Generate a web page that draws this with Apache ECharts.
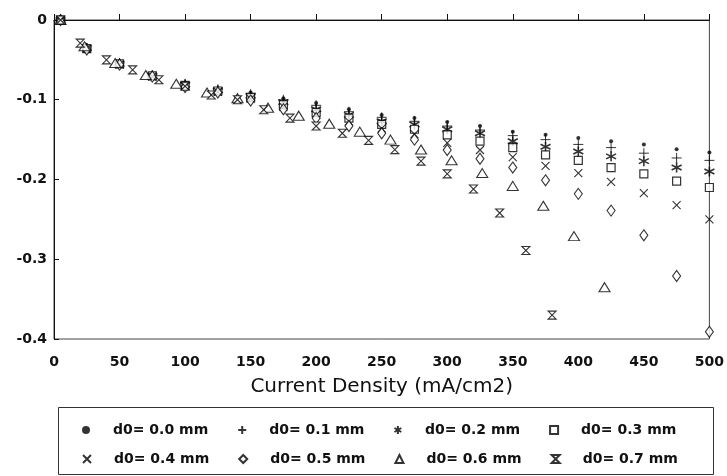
<!DOCTYPE html>
<html>
<head>
<meta charset="utf-8">
<script src="https://cdn.jsdelivr.net/npm/echarts@6/dist/echarts.min.js"></script>
<style>
    html, body { margin: 0; padding: 0; background: #fff; }
    #chart { width: 727px; height: 476px; }
</style>
</head>
<body>
<div id="chart"></div>
<script>
// 横轴 (mA/cm2)
var xMain = [5, 25, 50, 75, 100, 125, 150, 175, 200, 225, 250, 275, 300, 325, 350, 375, 400, 425, 450, 475, 500];
var x06 = [5, 23.3, 46.7, 70, 93.3, 116.7, 140, 163.3, 186.7, 210, 233.3, 256.7, 280, 303.3, 326.7, 350, 373.3, 396.7, 420];
var x07 = [5, 20, 40, 60, 80, 100, 120, 140, 160, 180, 200, 220, 240, 260, 280, 300, 320, 340, 360, 380];

// 纵轴数值
var y00 = [0, -0.034, -0.053, -0.068, -0.079, -0.086, -0.091, -0.098, -0.104, -0.112, -0.119, -0.123, -0.128, -0.133, -0.140, -0.144, -0.148, -0.152, -0.156, -0.162, -0.166];
var y01 = [0, -0.035, -0.054, -0.069, -0.080, -0.087, -0.093, -0.100, -0.107, -0.115, -0.122, -0.127, -0.133, -0.138, -0.145, -0.150, -0.156, -0.160, -0.167, -0.173, -0.176];
var y02 = [0, -0.035, -0.055, -0.070, -0.081, -0.088, -0.095, -0.103, -0.112, -0.119, -0.127, -0.131, -0.137, -0.142, -0.152, -0.159, -0.165, -0.171, -0.177, -0.185, -0.190];
var y03 = [0, -0.036, -0.055, -0.070, -0.082, -0.089, -0.097, -0.106, -0.116, -0.123, -0.131, -0.137, -0.144, -0.152, -0.160, -0.169, -0.176, -0.185, -0.193, -0.202, -0.210];
var y04 = [0, -0.036, -0.056, -0.071, -0.083, -0.090, -0.099, -0.109, -0.119, -0.127, -0.136, -0.143, -0.154, -0.163, -0.172, -0.183, -0.192, -0.203, -0.217, -0.232, -0.250];
var y05 = [0, -0.037, -0.056, -0.071, -0.084, -0.091, -0.101, -0.112, -0.123, -0.133, -0.142, -0.150, -0.163, -0.174, -0.185, -0.201, -0.218, -0.239, -0.270, -0.321, -0.391];
var y06 = [0, -0.033, -0.054, -0.069, -0.080, -0.091, -0.098, -0.110, -0.120, -0.130, -0.140, -0.150, -0.1625, -0.176, -0.192, -0.208, -0.233, -0.271, -0.335];
var y07 = [0, -0.029, -0.050, -0.0625, -0.075, -0.083, -0.094, -0.100, -0.1125, -0.123, -0.133, -0.142, -0.151, -0.1625, -0.177, -0.193, -0.212, -0.242, -0.289, -0.370];

var names = ['d0= 0.0 mm', 'd0= 0.1 mm', 'd0= 0.2 mm', 'd0= 0.3 mm', 'd0= 0.4 mm', 'd0= 0.5 mm', 'd0= 0.6 mm', 'd0= 0.7 mm'];

// 符号
var symPlus = 'path://M0,5 L10,5 M5,0 L5,10';
var symStar = 'path://M5,0 L5,10 M0.7,2.5 L9.3,7.5 M0.7,7.5 L9.3,2.5';
var symCross = 'path://M0,0 L10,10 M0,10 L10,0';
var symHour = 'path://M0,0 L10,0 L0,10 L10,10 Z';

function pairs(xs, ys) {
    return ys.map(function (v, i) { return [xs[i], v]; });
}

function makeSeries(name, xs, ys, symbol, size, fill, bw) {
    return {
        type: 'scatter',
        name: name,
        data: pairs(xs, ys),
        symbol: symbol,
        symbolSize: size,
        itemStyle: {
            color: fill,
            borderColor: '#000',
            borderWidth: bw
        },
        emphasis: { disabled: true }
    };
}

function extend(base, extra) {
    var o = JSON.parse(JSON.stringify(base));
    for (var k in extra) o[k] = extra[k];
    return o;
}

var chart = echarts.init(document.getElementById('chart'));

var legendBase = {
    orient: 'horizontal',
    left: 77,
    itemWidth: 8,
    itemHeight: 8,
    itemGap: 29,
    textStyle: {
        fontFamily: 'DejaVu Sans',
        fontWeight: 'bold',
        fontSize: 14,
        color: '#111',
        width: 95,
        padding: [0, 0, 0, 18]
    }
};

var option = {
    animation: false,
    backgroundColor: '#fff',
    grid: {
        left: 54,
        right: 16,
        top: 20,
        bottom: 137,
        show: true,
        borderColor: '#444',
        borderWidth: 1
    },
    xAxis: {
        type: 'value',
        min: 0,
        max: 500,
        interval: 50,
        name: 'Current Density (mA/cm2)',
        nameLocation: 'middle',
        nameGap: 38,
        nameTextStyle: {
            fontFamily: 'DejaVu Sans',
            fontSize: 20,
            color: '#111'
        },
        axisLine: { lineStyle: { color: '#111', width: 1 } },
        axisTick: { inside: true, length: 6, lineStyle: { color: '#111' } },
        axisLabel: {
            margin: 16,
            fontFamily: 'DejaVu Sans',
            fontWeight: 'bold',
            fontSize: 14,
            color: '#111'
        },
        splitLine: { show: false }
    },
    yAxis: {
        type: 'value',
        min: -0.4,
        max: 0,
        interval: 0.1,
        axisLine: { show: true, lineStyle: { color: '#111', width: 1 } },
        axisTick: { show: true, inside: true, length: 5, lineStyle: { color: '#111' } },
        axisLabel: {
            margin: 7,
            fontFamily: 'DejaVu Sans',
            fontWeight: 'bold',
            fontSize: 14,
            color: '#111'
        },
        splitLine: { show: false }
    },
    legend: [
        extend(legendBase, { top: 418, data: names.slice(0, 4) }),
        extend(legendBase, { top: 447, data: names.slice(4, 8) })
    ],
    graphic: [{
        type: 'rect',
        left: 56,
        top: 405,
        shape: { width: 655, height: 67 },
        style: { fill: 'none', stroke: '#333', lineWidth: 1 },
        silent: true
    }],
    series: [
        makeSeries(names[0], xMain, y00, 'circle', 4, '#000', 0),
        makeSeries(names[1], xMain, y01, symPlus, [10, 10], 'transparent', 1),
        makeSeries(names[2], xMain, y02, symStar, [10, 10], 'transparent', 1.6),
        makeSeries(names[3], xMain, y03, 'rect', [8, 8], '#fff', 1.2),
        makeSeries(names[4], xMain, y04, symCross, [8, 8], 'transparent', 1.1),
        makeSeries(names[5], xMain, y05, 'diamond', [8, 11], '#fff', 1.1),
        makeSeries(names[6], x06, y06, 'triangle', [11, 9], '#fff', 1.1),
        makeSeries(names[7], x07, y07, symHour, [8, 8], '#fff', 1.1)
    ]
};

chart.setOption(option);
</script>
</body>
</html>
